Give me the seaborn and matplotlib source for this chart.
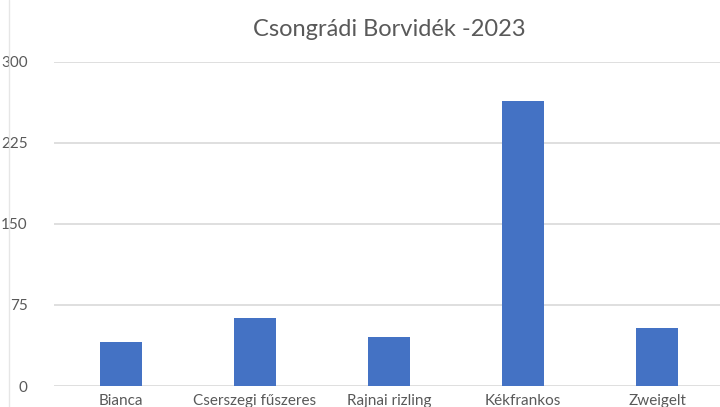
import matplotlib
matplotlib.use("Agg")
import matplotlib.pyplot as plt
from matplotlib.lines import Line2D
import seaborn as sns
import pandas as pd

categories = ["Bianca", "Cserszegi fűszeres", "Rajnai rizling", "Kékfrankos", "Zweigelt"]
values = [41, 63, 45, 264, 54]
yticks = [0, 75, 150, 225, 300]
title = "Csongrádi Borvidék -2023"

sns.set_theme(style="white")
plt.rcParams['font.family'] = ['Lato', 'DejaVu Sans']

df = pd.DataFrame({"cat": categories, "val": values})

W, H = 720, 407
fig = plt.figure(figsize=(W / 100, H / 100), dpi=100)
left, right, bottom, top = 54, 724, 386, 62
ax = fig.add_axes([left / W, (H - bottom) / H, (right - left) / W, (bottom - top) / H])

sns.barplot(data=df, x="cat", y="val", color="#4472C4", width=0.31, ax=ax,
            saturation=1, edgecolor="none")
ax.set_xlim(-0.5, 4.5)
ax.set_ylim(0, 300)
ax.set_yticks(yticks)
ax.set_yticklabels([str(t) for t in yticks])
ax.yaxis.grid(True, color="#d9d9d9", linewidth=1.2)
ax.set_axisbelow(True)
for s in ax.spines.values():
    s.set_visible(False)
ax.tick_params(axis="y", length=0, pad=19, labelsize=11, labelcolor="#595959")
ax.tick_params(axis="x", length=0, pad=6, labelsize=11, labelcolor="#595959")
ax.set_xlabel("")
ax.set_ylabel("")
ax.set_title(title, fontsize=17, color="#595959", pad=19)

# faint frame edge at the left of the chart area
fig.add_artist(Line2D([9 / W, 9 / W], [0, 1], transform=fig.transFigure,
                      color="#e6e6e6", linewidth=1))

fig.savefig("out.png", dpi=100)
